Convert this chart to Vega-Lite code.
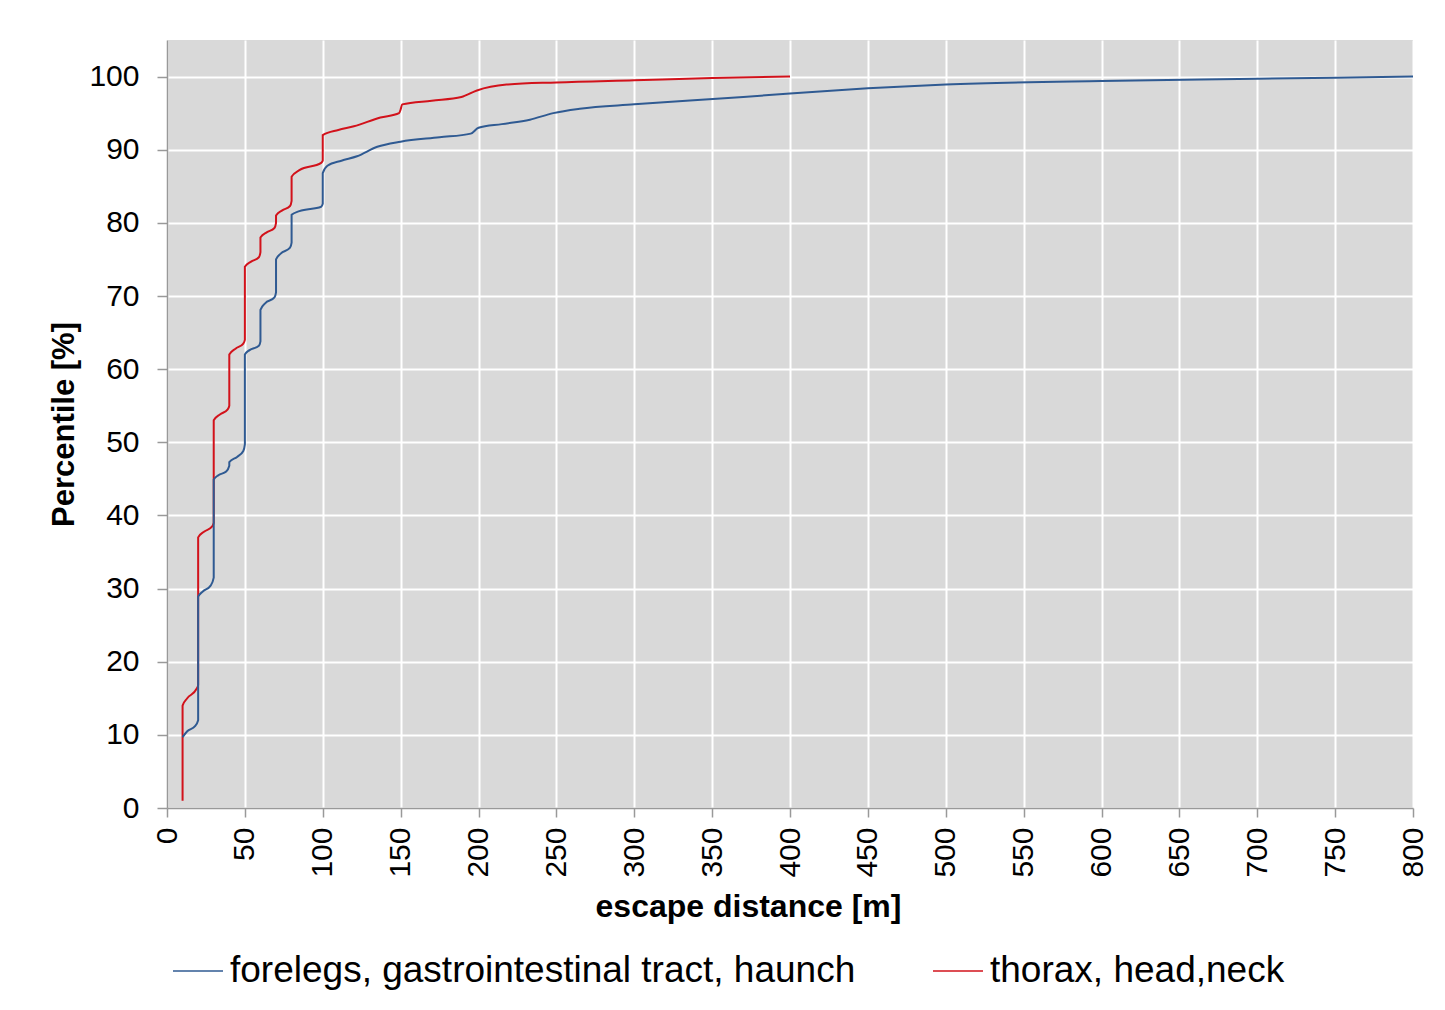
{
  "$schema": "https://vega.github.io/schema/vega-lite/v6.json",
  "width": 1246,
  "height": 768,
  "autosize": {"type": "none"},
  "padding": {"left": 167, "top": 40, "right": 32, "bottom": 202},
  "background": "white",
  "config": {"view": {"fill": "#d9d9d9", "stroke": null}, "font": "Liberation Sans"},
  "datasets": {
    "cdf": [
      {"series": "thorax, head,neck", "idx": 1, "distance": 10, "percentile": 1},
      {"series": "thorax, head,neck", "idx": 2, "distance": 10, "percentile": 14},
      {"series": "thorax, head,neck", "idx": 3, "distance": 13, "percentile": 15},
      {"series": "thorax, head,neck", "idx": 4, "distance": 19, "percentile": 16.3},
      {"series": "thorax, head,neck", "idx": 5, "distance": 20, "percentile": 16.8},
      {"series": "thorax, head,neck", "idx": 6, "distance": 20, "percentile": 37},
      {"series": "thorax, head,neck", "idx": 7, "distance": 24, "percentile": 37.8},
      {"series": "thorax, head,neck", "idx": 8, "distance": 29, "percentile": 38.5},
      {"series": "thorax, head,neck", "idx": 9, "distance": 30, "percentile": 39},
      {"series": "thorax, head,neck", "idx": 10, "distance": 30, "percentile": 53},
      {"series": "thorax, head,neck", "idx": 11, "distance": 34, "percentile": 53.8},
      {"series": "thorax, head,neck", "idx": 12, "distance": 39, "percentile": 54.5},
      {"series": "thorax, head,neck", "idx": 13, "distance": 40, "percentile": 55},
      {"series": "thorax, head,neck", "idx": 14, "distance": 40, "percentile": 62},
      {"series": "thorax, head,neck", "idx": 15, "distance": 44, "percentile": 62.8},
      {"series": "thorax, head,neck", "idx": 16, "distance": 49, "percentile": 63.5},
      {"series": "thorax, head,neck", "idx": 17, "distance": 50, "percentile": 64},
      {"series": "thorax, head,neck", "idx": 18, "distance": 50, "percentile": 74},
      {"series": "thorax, head,neck", "idx": 19, "distance": 54, "percentile": 74.7},
      {"series": "thorax, head,neck", "idx": 20, "distance": 59, "percentile": 75.3},
      {"series": "thorax, head,neck", "idx": 21, "distance": 60, "percentile": 76},
      {"series": "thorax, head,neck", "idx": 22, "distance": 60, "percentile": 78},
      {"series": "thorax, head,neck", "idx": 23, "distance": 64, "percentile": 78.7},
      {"series": "thorax, head,neck", "idx": 24, "distance": 69, "percentile": 79.3},
      {"series": "thorax, head,neck", "idx": 25, "distance": 70, "percentile": 80},
      {"series": "thorax, head,neck", "idx": 26, "distance": 70, "percentile": 81},
      {"series": "thorax, head,neck", "idx": 27, "distance": 74, "percentile": 81.7},
      {"series": "thorax, head,neck", "idx": 28, "distance": 79, "percentile": 82.3},
      {"series": "thorax, head,neck", "idx": 29, "distance": 80, "percentile": 83},
      {"series": "thorax, head,neck", "idx": 30, "distance": 80, "percentile": 86.3},
      {"series": "thorax, head,neck", "idx": 31, "distance": 85, "percentile": 87.2},
      {"series": "thorax, head,neck", "idx": 32, "distance": 99, "percentile": 88.2},
      {"series": "thorax, head,neck", "idx": 33, "distance": 100, "percentile": 88.5},
      {"series": "thorax, head,neck", "idx": 34, "distance": 100, "percentile": 92},
      {"series": "thorax, head,neck", "idx": 35, "distance": 110, "percentile": 92.7},
      {"series": "thorax, head,neck", "idx": 36, "distance": 120, "percentile": 93.2},
      {"series": "thorax, head,neck", "idx": 37, "distance": 137, "percentile": 94.4},
      {"series": "thorax, head,neck", "idx": 38, "distance": 149, "percentile": 95},
      {"series": "thorax, head,neck", "idx": 39, "distance": 150, "percentile": 95.5},
      {"series": "thorax, head,neck", "idx": 40, "distance": 151, "percentile": 96.2},
      {"series": "thorax, head,neck", "idx": 41, "distance": 170, "percentile": 96.7},
      {"series": "thorax, head,neck", "idx": 42, "distance": 189, "percentile": 97.2},
      {"series": "thorax, head,neck", "idx": 43, "distance": 199, "percentile": 98.1},
      {"series": "thorax, head,neck", "idx": 44, "distance": 218, "percentile": 98.9},
      {"series": "thorax, head,neck", "idx": 45, "distance": 250, "percentile": 99.2},
      {"series": "thorax, head,neck", "idx": 46, "distance": 300, "percentile": 99.5},
      {"series": "thorax, head,neck", "idx": 47, "distance": 350, "percentile": 99.8},
      {"series": "thorax, head,neck", "idx": 48, "distance": 400, "percentile": 100},
      {"series": "forelegs, gastrointestinal tract, haunch", "idx": 1, "distance": 10, "percentile": 9.7},
      {"series": "forelegs, gastrointestinal tract, haunch", "idx": 2, "distance": 13, "percentile": 10.5},
      {"series": "forelegs, gastrointestinal tract, haunch", "idx": 3, "distance": 18, "percentile": 11.2},
      {"series": "forelegs, gastrointestinal tract, haunch", "idx": 4, "distance": 20, "percentile": 12},
      {"series": "forelegs, gastrointestinal tract, haunch", "idx": 5, "distance": 20, "percentile": 28.9},
      {"series": "forelegs, gastrointestinal tract, haunch", "idx": 6, "distance": 23, "percentile": 29.6},
      {"series": "forelegs, gastrointestinal tract, haunch", "idx": 7, "distance": 28, "percentile": 30.4},
      {"series": "forelegs, gastrointestinal tract, haunch", "idx": 8, "distance": 30, "percentile": 31.5},
      {"series": "forelegs, gastrointestinal tract, haunch", "idx": 9, "distance": 30, "percentile": 44.9},
      {"series": "forelegs, gastrointestinal tract, haunch", "idx": 10, "distance": 33, "percentile": 45.5},
      {"series": "forelegs, gastrointestinal tract, haunch", "idx": 11, "distance": 38, "percentile": 46},
      {"series": "forelegs, gastrointestinal tract, haunch", "idx": 12, "distance": 40, "percentile": 46.8},
      {"series": "forelegs, gastrointestinal tract, haunch", "idx": 13, "distance": 40, "percentile": 47.3},
      {"series": "forelegs, gastrointestinal tract, haunch", "idx": 14, "distance": 45, "percentile": 48},
      {"series": "forelegs, gastrointestinal tract, haunch", "idx": 15, "distance": 49, "percentile": 48.8},
      {"series": "forelegs, gastrointestinal tract, haunch", "idx": 16, "distance": 50, "percentile": 49.7},
      {"series": "forelegs, gastrointestinal tract, haunch", "idx": 17, "distance": 50, "percentile": 62},
      {"series": "forelegs, gastrointestinal tract, haunch", "idx": 18, "distance": 53, "percentile": 62.6},
      {"series": "forelegs, gastrointestinal tract, haunch", "idx": 19, "distance": 59, "percentile": 63.2},
      {"series": "forelegs, gastrointestinal tract, haunch", "idx": 20, "distance": 60, "percentile": 63.8},
      {"series": "forelegs, gastrointestinal tract, haunch", "idx": 21, "distance": 60, "percentile": 68.1},
      {"series": "forelegs, gastrointestinal tract, haunch", "idx": 22, "distance": 63, "percentile": 69},
      {"series": "forelegs, gastrointestinal tract, haunch", "idx": 23, "distance": 69, "percentile": 69.8},
      {"series": "forelegs, gastrointestinal tract, haunch", "idx": 24, "distance": 70, "percentile": 70.5},
      {"series": "forelegs, gastrointestinal tract, haunch", "idx": 25, "distance": 70, "percentile": 75},
      {"series": "forelegs, gastrointestinal tract, haunch", "idx": 26, "distance": 73, "percentile": 75.8},
      {"series": "forelegs, gastrointestinal tract, haunch", "idx": 27, "distance": 79, "percentile": 76.6},
      {"series": "forelegs, gastrointestinal tract, haunch", "idx": 28, "distance": 80, "percentile": 77.3},
      {"series": "forelegs, gastrointestinal tract, haunch", "idx": 29, "distance": 80, "percentile": 81.1},
      {"series": "forelegs, gastrointestinal tract, haunch", "idx": 30, "distance": 85, "percentile": 81.6},
      {"series": "forelegs, gastrointestinal tract, haunch", "idx": 31, "distance": 99, "percentile": 82.2},
      {"series": "forelegs, gastrointestinal tract, haunch", "idx": 32, "distance": 100, "percentile": 82.6},
      {"series": "forelegs, gastrointestinal tract, haunch", "idx": 33, "distance": 100, "percentile": 86.8},
      {"series": "forelegs, gastrointestinal tract, haunch", "idx": 34, "distance": 103, "percentile": 87.8},
      {"series": "forelegs, gastrointestinal tract, haunch", "idx": 35, "distance": 112, "percentile": 88.5},
      {"series": "forelegs, gastrointestinal tract, haunch", "idx": 36, "distance": 122, "percentile": 89.1},
      {"series": "forelegs, gastrointestinal tract, haunch", "idx": 37, "distance": 135, "percentile": 90.4},
      {"series": "forelegs, gastrointestinal tract, haunch", "idx": 38, "distance": 150, "percentile": 91.1},
      {"series": "forelegs, gastrointestinal tract, haunch", "idx": 39, "distance": 175, "percentile": 91.7},
      {"series": "forelegs, gastrointestinal tract, haunch", "idx": 40, "distance": 195, "percentile": 92.2},
      {"series": "forelegs, gastrointestinal tract, haunch", "idx": 41, "distance": 200, "percentile": 93},
      {"series": "forelegs, gastrointestinal tract, haunch", "idx": 42, "distance": 215, "percentile": 93.5},
      {"series": "forelegs, gastrointestinal tract, haunch", "idx": 43, "distance": 233, "percentile": 94.1},
      {"series": "forelegs, gastrointestinal tract, haunch", "idx": 44, "distance": 248, "percentile": 95},
      {"series": "forelegs, gastrointestinal tract, haunch", "idx": 45, "distance": 265, "percentile": 95.6},
      {"series": "forelegs, gastrointestinal tract, haunch", "idx": 46, "distance": 300, "percentile": 96.2},
      {"series": "forelegs, gastrointestinal tract, haunch", "idx": 47, "distance": 370, "percentile": 97.2},
      {"series": "forelegs, gastrointestinal tract, haunch", "idx": 48, "distance": 400, "percentile": 97.7},
      {"series": "forelegs, gastrointestinal tract, haunch", "idx": 49, "distance": 450, "percentile": 98.4},
      {"series": "forelegs, gastrointestinal tract, haunch", "idx": 50, "distance": 500, "percentile": 98.9},
      {"series": "forelegs, gastrointestinal tract, haunch", "idx": 51, "distance": 600, "percentile": 99.4},
      {"series": "forelegs, gastrointestinal tract, haunch", "idx": 52, "distance": 700, "percentile": 99.7},
      {"series": "forelegs, gastrointestinal tract, haunch", "idx": 53, "distance": 800, "percentile": 100}
    ]
  },
  "data": {"name": "cdf"},
  "mark": {"type": "line", "interpolate": "monotone", "strokeWidth": 2},
  "encoding": {
    "x": {
      "field": "distance",
      "type": "quantitative",
      "scale": {"domain": [0, 800], "nice": false, "zero": false},
      "axis": {
        "values": [0, 50, 100, 150, 200, 250, 300, 350, 400, 450, 500, 550, 600, 650, 700, 750, 800],
        "labelAngle": -90,
        "labelFontSize": 30,
        "labelColor": "#000000",
        "labelPadding": 10,
        "labelFlush": false,
        "labelOverlap": false,
        "tickSize": 9,
        "tickColor": "#999999",
        "tickWidth": 1.5,
        "domainColor": "#999999",
        "domainWidth": 1.5,
        "gridColor": "#ffffff",
        "gridWidth": 2,
        "gridOpacity": 1,
        "title": "escape distance [m]",
        "titleFontSize": 32,
        "titleFontWeight": "bold",
        "titleColor": "#000000",
        "titleX": 581,
        "titlePadding": 14
      }
    },
    "y": {
      "field": "percentile",
      "type": "quantitative",
      "scale": {"domain": [0, 105], "nice": false},
      "axis": {
        "values": [0, 10, 20, 30, 40, 50, 60, 70, 80, 90, 100],
        "labelFontSize": 30,
        "labelColor": "#000000",
        "labelPadding": 18,
        "labelFlush": false,
        "tickSize": 10,
        "tickColor": "#999999",
        "tickWidth": 1.5,
        "domainColor": "#999999",
        "domainWidth": 1.5,
        "gridColor": "#ffffff",
        "gridWidth": 2,
        "gridOpacity": 1,
        "title": "Percentile [%]",
        "titleFontSize": 31,
        "titleFontWeight": "bold",
        "titleColor": "#000000",
        "titlePadding": 8
      }
    },
    "color": {
      "field": "series",
      "type": "nominal",
      "scale": {
        "domain": ["forelegs, gastrointestinal tract, haunch", "thorax, head,neck"],
        "range": ["#2f5a92", "#d2121b"]
      },
      "legend": {
        "orient": "none",
        "legendX": 5,
        "legendY": 905,
        "direction": "horizontal",
        "title": null,
        "labelFontSize": 37,
        "labelColor": "#000000",
        "labelLimit": 1000,
        "symbolType": "stroke",
        "symbolSize": 2500,
        "symbolStrokeWidth": 1.5,
        "labelOffset": 6,
        "columnPadding": 74
      }
    },
    "order": {"field": "idx", "type": "quantitative"}
  }
}
